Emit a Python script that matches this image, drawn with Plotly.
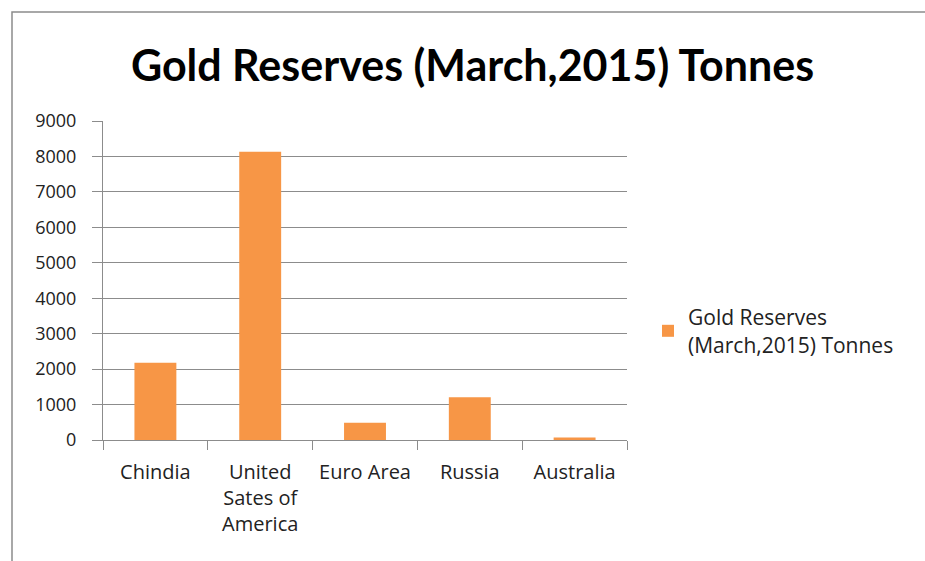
import plotly.graph_objects as go

categories = ["Chindia", "United<br>Sates of<br>America", "Euro Area", "Russia", "Australia"]
values = [2180, 8133, 490, 1208, 70]
series_name = "Gold Reserves<br>(March,2015) Tonnes"
title_text = "Gold Reserves (March,2015) Tonnes"
y_ticks = [0, 1000, 2000, 3000, 4000, 5000, 6000, 7000, 8000, 9000]

W, H = 925, 561
L, R, T, B = 103, 298, 121, 121
PW, PH = W - L - R, H - T - B

fig = go.Figure()
fig.add_trace(go.Bar(
    x=categories, y=values, name=series_name,
    marker=dict(color="#F79646", line=dict(width=0)),
    showlegend=True,
))

fig.update_layout(
    width=W, height=H,
    margin=dict(l=L, r=R, t=T, b=B),
    paper_bgcolor="white", plot_bgcolor="white",
    font=dict(family="Open Sans", color="#222222", size=18),
    title=dict(text="<b>" + title_text + "</b>", x=(130 + 815) / 2 / W, xanchor="center",
               y=1 - 66 / H, yanchor="middle",
               font=dict(family="Lato", size=43, color="black")),
    bargap=0.6,
    showlegend=True,
    legend=dict(x=(668 - L - 20) / PW, xanchor="left", y=(440 - 331) / PH, yanchor="middle",
                font=dict(family="Open Sans", size=21, color="#222222"),
                bgcolor="rgba(0,0,0,0)", tracegroupgap=0),
    shapes=[dict(type="rect", xref="paper", yref="paper",
                 x0=(12 - L) / PW, x1=(W + 5 - L) / PW,
                 y0=-(B + 5) / PH, y1=1 + (T - 12) / PH,
                 line=dict(color="#8C8C8C", width=1.5), layer="below")],
)

fig.update_yaxes(range=[0, 9000], tickvals=y_ticks, showgrid=True, gridcolor="#8C8C8C", gridwidth=1,
                 showline=True, linecolor="#8C8C8C", linewidth=1, ticks="outside", ticklen=10,
                 tickcolor="#8C8C8C", zeroline=False, ticklabelstandoff=12,
                 tickfont=dict(size=18, color="#222222"))
fig.update_xaxes(showline=True, linecolor="#8C8C8C", linewidth=1, ticks="outside", ticklen=9,
                 tickcolor="#8C8C8C", tickson="boundaries", showgrid=False,
                 ticklabelstandoff=14,
                 tickfont=dict(size=20, color="#222222"))

fig.write_html("out.html")
